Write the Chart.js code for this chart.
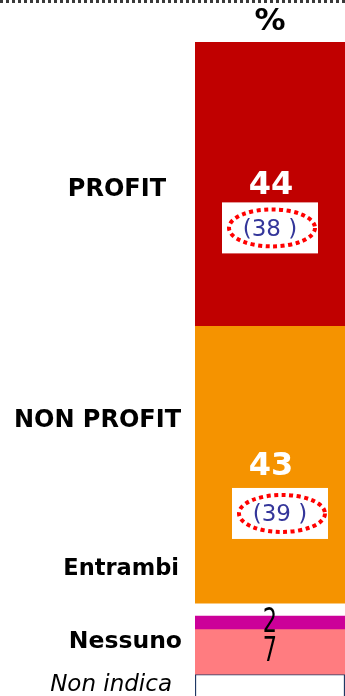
<!DOCTYPE html>
<html>
<head>
<meta charset="utf-8">
<script src="https://cdn.jsdelivr.net/npm/chart.js@4/dist/chart.umd.min.js"></script>
<style>
  html, body { margin: 0; padding: 0; background: #fff; overflow: hidden; }
  canvas { display: block; }
</style>
</head>
<body>
<canvas id="c" width="345" height="696"></canvas>
<script>
// Answer categories, top to bottom of the stacked column
const categories = ['PROFIT', 'NON PROFIT', 'Entrambi', 'Nessuno', 'Non indica'];
// Current percentages
const values = [44, 43, 2, 7, 4];
// Previous survey values shown in brackets
const previous = [38, 39, null, null, null];
const columnTitle = '%';

const colors = ['#C00000', '#F59300', '#CC0099', '#FF7C80', '#FFFFFF'];
const borderColors = [null, null, null, null, '#1F3864'];

// Small white gap separating the two main answers from the minor ones
const GAP_INDEX = 2;
const GAP_UNITS = 2;

// Build floating [start, end] segments from the cumulative values
const segments = [];
let acc = 0;
values.forEach((v, i) => {
  if (i === GAP_INDEX) acc += GAP_UNITS;
  segments.push([acc, acc + v]);
  acc += v;
});

const datasets = categories.map((name, i) => ({
  label: name,
  data: [segments[i]],
  backgroundColor: colors[i],
  borderColor: borderColors[i] || colors[i],
  borderWidth: borderColors[i] ? 1.5 : 0,
  borderSkipped: false,
  grouped: false,
  barPercentage: 1,
  categoryPercentage: 1
}));

// Left-hand category captions: right edge x, vertical centre, font
const captionStyle = [
  [166, 190, 'bold 24px "DejaVu Sans"'],
  [181, 421, 'bold 24px "DejaVu Sans"'],
  [179, 569, 'bold 22.5px "DejaVu Sans"'],
  [182, 642, 'bold 23.5px "DejaVu Sans"'],
  [172, 685, 'italic 23px "DejaVu Sans"']
];

const labelsPlugin = {
  id: 'columnLabels',
  afterDatasetsDraw(chart) {
    const ctx = chart.ctx;
    ctx.save();

    // dotted rule along the top
    ctx.strokeStyle = '#3a3a3a';
    ctx.lineWidth = 3;
    ctx.setLineDash([3, 3]);
    ctx.beginPath();
    ctx.moveTo(0, 1.5);
    ctx.lineTo(chart.width, 1.5);
    ctx.stroke();
    ctx.setLineDash([]);

    const barX = chart.getDatasetMeta(0).data[0].x;

    // column header
    ctx.fillStyle = '#000';
    ctx.font = 'bold 31px "DejaVu Sans"';
    ctx.textAlign = 'center';
    ctx.textBaseline = 'middle';
    ctx.fillText(columnTitle, barX, 22);

    // category captions
    categories.forEach((name, i) => {
      const [rx, cy, font] = captionStyle[i];
      ctx.font = font;
      ctx.textAlign = 'right';
      ctx.textBaseline = 'middle';
      ctx.fillStyle = '#000';
      ctx.fillText(name, rx, cy);
    });

    const boxDx = [0, 10];
    const boxDy = [44, 49];

    chart.data.datasets.forEach((ds, i) => {
      if (i === 4) return;
      const bar = chart.getDatasetMeta(i).data[0];
      const cx = bar.x;
      const cy = (bar.y + bar.base) / 2;
      if (i < 2) {
        ctx.fillStyle = '#FFFFFF';
        ctx.font = 'bold 32px "DejaVu Sans"';
        ctx.textAlign = 'center';
        ctx.textBaseline = 'middle';
        ctx.fillText(String(values[i]), cx + 1, cy + 2);

        if (previous[i] != null) {
          const bx = cx + boxDx[i];
          const by = cy + boxDy[i];
          ctx.fillStyle = '#FFFFFF';
          ctx.fillRect(bx - 48, by - 25.5, 96, 51);
          ctx.fillStyle = '#34369A';
          ctx.font = '23px "DejaVu Sans"';
          ctx.fillText('(' + previous[i] + ' )', bx, by + 2);
          ctx.strokeStyle = '#FF0000';
          ctx.lineWidth = 4;
          ctx.setLineDash([4, 3.5]);
          ctx.beginPath();
          ctx.ellipse(bx + 2, by, 43, 18.5, 0, 0, Math.PI * 2);
          ctx.stroke();
          ctx.setLineDash([]);
        }
      } else {
        ctx.save();
        ctx.translate(cx, cy);
        ctx.scale(0.68, 1);
        ctx.fillStyle = '#000';
        ctx.font = '33px "DejaVu Sans"';
        ctx.textAlign = 'center';
        ctx.textBaseline = 'middle';
        ctx.fillText(String(values[i]), 0, 1);
        ctx.restore();
      }
    });

    ctx.restore();
  }
};

new Chart(document.getElementById('c'), {
  type: 'bar',
  data: { labels: [''], datasets },
  options: {
    responsive: false,
    animation: false,
    layout: { padding: { left: 195, right: 0, top: 42, bottom: 0 } },
    plugins: { legend: { display: false }, tooltip: { enabled: false } },
    scales: {
      x: { display: false },
      y: { display: false, min: 0, max: 101.4, reverse: true }
    }
  },
  plugins: [labelsPlugin]
});
</script>
</body>
</html>
